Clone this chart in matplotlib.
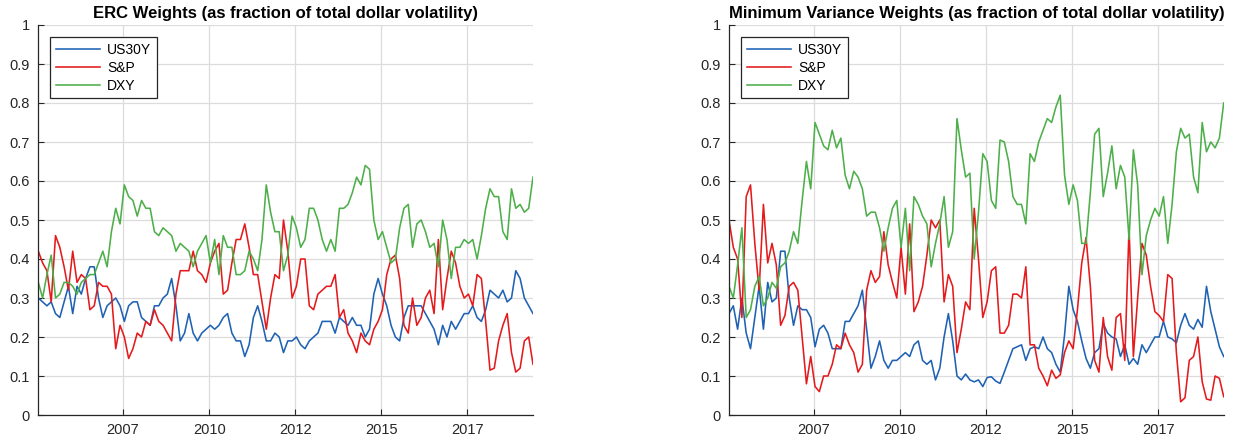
import numpy as np
import pandas as pd
import matplotlib
matplotlib.use("Agg")
import matplotlib.pyplot as plt
import matplotlib.dates as mdates
from datetime import datetime

plt.rcParams['font.family'] = ['Liberation Sans', 'DejaVu Sans']

# ---------------- data ----------------
n_points = 116
dates = pd.date_range('2005-01-12', '2019-05-28', periods=n_points)

series_names = ['US30Y', 'S&P', 'DXY']

erc_us30y = [0.30,0.29,0.28,0.29,0.26,0.25,0.29,0.33,0.26,0.33,0.31,0.35,0.38,0.38,0.30,0.25,0.28,0.29,0.30,0.28,0.24,0.28,0.29,0.29,0.25,0.24,0.23,0.28,0.28,0.30,
             0.31,0.35,0.28,0.19,0.21,0.26,0.21,0.19,0.21,0.22,0.23,0.22,0.23,0.25,0.26,0.21,0.19,0.19,0.15,0.18,0.25,0.28,0.24,0.19,0.19,0.21,0.20,0.16,0.19,
             0.19,0.20,0.18,0.17,0.19,0.20,0.21,0.24,0.24,0.24,0.21,0.25,0.24,0.23,0.25,0.23,0.23,0.20,0.22,0.31,0.35,0.31,0.28,0.23,0.20,0.19,0.25,0.28,
             0.28,0.28,0.28,0.26,0.24,0.22,0.18,0.23,0.20,0.24,0.22,0.24,0.26,0.26,0.28,0.25,0.24,0.27,0.32,0.31,0.30,0.32,0.29,0.30,0.37,0.35,0.30,0.28,0.26]
erc_sp = [0.42,0.39,0.37,0.29,0.46,0.43,0.38,0.32,0.42,0.34,0.36,0.35,0.27,0.28,0.34,0.33,0.33,0.31,0.17,0.23,0.20,0.145,0.17,0.21,0.20,0.24,0.23,0.27,0.24,0.23,
          0.21,0.19,0.31,0.37,0.37,0.37,0.42,0.37,0.36,0.34,0.39,0.42,0.44,0.31,0.32,0.39,0.45,0.45,0.49,0.43,0.36,0.36,0.29,0.22,0.30,0.36,0.35,0.50,0.42,
          0.30,0.33,0.40,0.40,0.28,0.27,0.31,0.32,0.33,0.33,0.36,0.25,0.27,0.21,0.19,0.16,0.21,0.19,0.18,0.22,0.24,0.27,0.36,0.40,0.41,0.35,0.23,0.21,
          0.30,0.23,0.25,0.30,0.32,0.26,0.45,0.27,0.35,0.42,0.39,0.33,0.30,0.31,0.28,0.36,0.35,0.24,0.115,0.12,0.19,0.23,0.26,0.16,0.11,0.12,0.19,0.20,0.13]
erc_dxy = [0.34,0.30,0.36,0.41,0.30,0.31,0.34,0.34,0.33,0.31,0.34,0.35,0.36,0.36,0.39,0.42,0.38,0.47,0.53,0.49,0.59,0.56,0.55,0.51,0.55,0.53,0.53,0.47,0.46,0.48,
           0.47,0.46,0.42,0.44,0.43,0.42,0.38,0.42,0.44,0.46,0.39,0.45,0.36,0.46,0.43,0.43,0.36,0.36,0.37,0.42,0.40,0.37,0.45,0.59,0.52,0.47,0.47,0.37,0.41,
           0.51,0.48,0.43,0.45,0.53,0.53,0.50,0.45,0.42,0.45,0.42,0.53,0.53,0.54,0.57,0.61,0.59,0.64,0.63,0.50,0.45,0.47,0.43,0.39,0.40,0.48,0.53,0.54,
           0.43,0.49,0.50,0.47,0.43,0.44,0.38,0.50,0.45,0.35,0.43,0.43,0.45,0.44,0.45,0.40,0.46,0.53,0.58,0.56,0.56,0.47,0.45,0.58,0.53,0.54,0.52,0.53,0.61]

mv_us30y = [0.26,0.28,0.22,0.30,0.21,0.17,0.25,0.33,0.22,0.34,0.29,0.30,0.42,0.42,0.30,0.23,0.28,0.27,0.27,0.25,0.175,0.22,0.23,0.21,0.17,0.17,0.17,0.24,0.24,0.26,
            0.28,0.32,0.22,0.12,0.15,0.19,0.14,0.12,0.14,0.14,0.15,0.16,0.15,0.18,0.19,0.14,0.13,0.14,0.09,0.12,0.20,0.26,0.19,0.10,0.09,0.105,0.09,0.085,0.09,
            0.073,0.096,0.098,0.087,0.081,0.11,0.14,0.17,0.175,0.18,0.14,0.17,0.175,0.17,0.20,0.17,0.16,0.13,0.11,0.205,0.33,0.27,0.24,0.19,0.145,0.12,0.16,0.17,
            0.235,0.21,0.20,0.195,0.15,0.18,0.13,0.145,0.13,0.18,0.16,0.18,0.20,0.20,0.24,0.20,0.195,0.185,0.23,0.26,0.23,0.22,0.245,0.225,0.33,0.265,0.22,0.175,0.15]
mv_sp = [0.50,0.43,0.40,0.25,0.56,0.59,0.44,0.32,0.54,0.39,0.44,0.385,0.23,0.255,0.33,0.34,0.32,0.20,0.08,0.15,0.073,0.06,0.10,0.10,0.13,0.18,0.17,0.21,0.18,0.16,
         0.11,0.13,0.32,0.37,0.34,0.355,0.47,0.385,0.34,0.30,0.43,0.31,0.49,0.265,0.29,0.33,0.41,0.50,0.48,0.50,0.29,0.36,0.33,0.16,0.22,0.29,0.27,0.53,0.40,
         0.25,0.29,0.37,0.38,0.21,0.21,0.23,0.31,0.31,0.30,0.38,0.18,0.18,0.12,0.10,0.075,0.115,0.094,0.103,0.16,0.19,0.17,0.27,0.39,0.455,0.33,0.14,0.11,
         0.25,0.15,0.115,0.25,0.26,0.14,0.48,0.15,0.30,0.44,0.41,0.33,0.265,0.255,0.24,0.36,0.35,0.16,0.034,0.044,0.14,0.15,0.20,0.085,0.041,0.038,0.10,0.094,0.047]
mv_dxy = [0.33,0.30,0.385,0.48,0.25,0.27,0.33,0.355,0.28,0.30,0.34,0.325,0.38,0.39,0.42,0.47,0.44,0.55,0.65,0.58,0.75,0.72,0.69,0.68,0.73,0.685,0.71,0.615,0.58,0.625,
          0.61,0.58,0.51,0.52,0.52,0.48,0.42,0.48,0.53,0.55,0.43,0.53,0.37,0.56,0.54,0.51,0.49,0.38,0.44,0.49,0.56,0.43,0.47,0.76,0.68,0.61,0.62,0.40,0.52,
          0.67,0.65,0.55,0.53,0.705,0.70,0.65,0.56,0.54,0.54,0.49,0.67,0.65,0.70,0.73,0.76,0.75,0.79,0.82,0.615,0.54,0.59,0.55,0.44,0.44,0.57,0.72,0.735,
          0.56,0.62,0.69,0.58,0.64,0.61,0.45,0.68,0.59,0.36,0.46,0.50,0.53,0.51,0.56,0.44,0.54,0.675,0.735,0.71,0.72,0.61,0.57,0.75,0.675,0.70,0.685,0.71,0.80]

titles = ['ERC Weights (as fraction of total dollar volatility)',
          'Minimum Variance Weights (as fraction of total dollar volatility)']
x_tick_dates = [datetime(2007, 7, 1), datetime(2010, 1, 1), datetime(2012, 7, 1),
                datetime(2015, 1, 1), datetime(2017, 7, 1)]
y_ticks = [0, 0.1, 0.2, 0.3, 0.4, 0.5, 0.6, 0.7, 0.8, 0.9, 1]
y_tick_labels = ['0', '0.1', '0.2', '0.3', '0.4', '0.5', '0.6', '0.7', '0.8', '0.9', '1']

colors = ['#1f62b4', '#e41a1c', '#4daf4a']
axis_col = '#262626'

# ---------------- figure ----------------
fig = plt.figure(figsize=(12.36, 4.44), dpi=100)
ax_l = fig.add_axes([38.3/1236, 29/444, 494.7/1236, 390/444])
ax_r = fig.add_axes([729/1236, 29/444, 494.7/1236, 390/444])

panels = [(ax_l, [erc_us30y, erc_sp, erc_dxy], titles[0]),
          (ax_r, [mv_us30y, mv_sp, mv_dxy], titles[1])]

for ax, data, title in panels:
    for vals, name, c in zip(data, series_names, colors):
        ax.plot(dates, vals, color=c, lw=1.15, label=name)
    ax.set_xlim(dates[0], dates[-1])
    ax.set_ylim(0, 1)
    ax.set_yticks(y_ticks)
    ax.set_yticklabels(y_tick_labels)
    ax.set_xticks(x_tick_dates)
    ax.xaxis.set_major_formatter(mdates.DateFormatter('%Y'))
    ax.grid(True, color='#dcdcdc', lw=0.9)
    ax.set_axisbelow(True)
    for s in ['top', 'right']:
        ax.spines[s].set_visible(False)
    for s in ['left', 'bottom']:
        ax.spines[s].set_color(axis_col)
        ax.spines[s].set_linewidth(0.9)
    ax.tick_params(direction='in', length=4, width=0.8, colors=axis_col,
                   labelsize=10.5, labelcolor=axis_col, pad=6)
    ax.set_title(title, fontsize=12, fontweight='bold', color='black', pad=5)
    leg = ax.legend(loc='upper left', bbox_to_anchor=(12/494.7, 1 - 12/390),
                    borderaxespad=0, fontsize=10, handlelength=3.2,
                    labelspacing=0.3, fancybox=False, framealpha=1,
                    edgecolor=axis_col, borderpad=0.4, handletextpad=0.5)
    leg.get_frame().set_linewidth(0.9)

fig.savefig('out.png', dpi=100)
